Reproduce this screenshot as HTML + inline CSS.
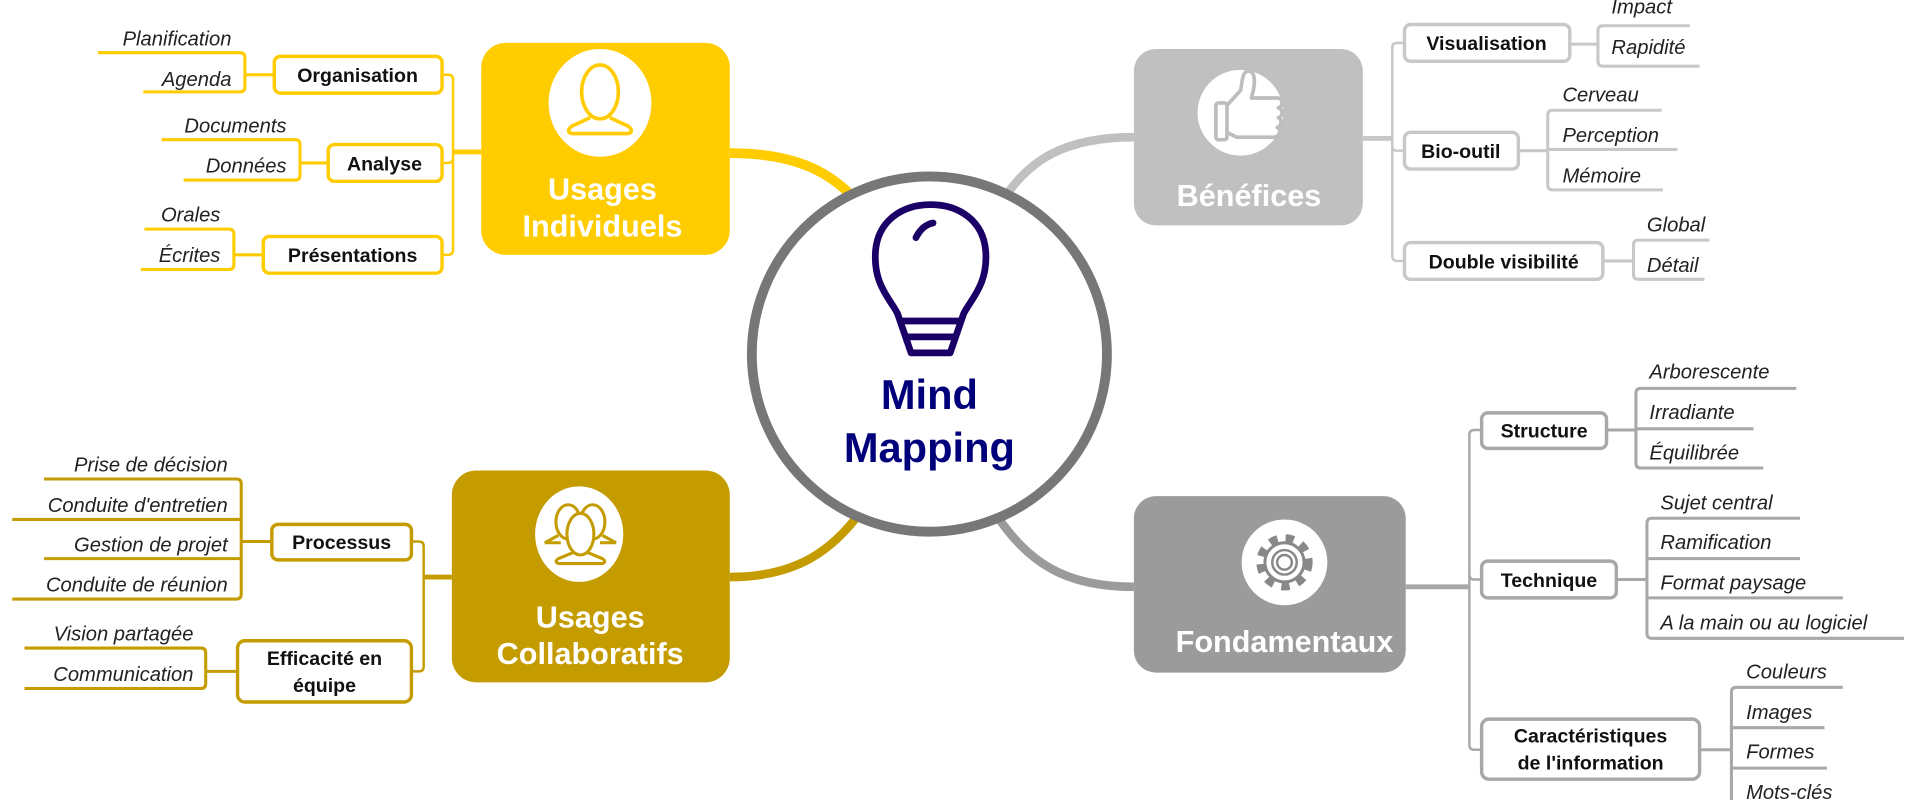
<!DOCTYPE html>
<html><head><meta charset="utf-8"><style>
html,body{margin:0;padding:0;background:#fff;}
svg{display:block;}
text{font-family:"Liberation Sans",sans-serif;}
.b{font-weight:bold;font-size:16px;fill:#111;text-anchor:middle;}
.l{font-style:italic;font-size:16.5px;fill:#222;}
.le{font-style:italic;font-size:16.5px;fill:#222;text-anchor:end;}
.m{font-weight:bold;font-size:25px;fill:#fff;text-anchor:middle;}
</style></head><body>
<svg width="1920" height="800" viewBox="0 0 1568 653" preserveAspectRatio="none" xmlns="http://www.w3.org/2000/svg">
<!-- main branches -->
<path d="M596 125 C650 125 680 140 705 170" stroke="#FFCC00" stroke-width="8" fill="none"/>
<path d="M926 112 C870 112 840 130 818 165" stroke="#C0C0C0" stroke-width="7" fill="none"/>
<path d="M596 471 C650 471 680 450 705 415" stroke="#C49C00" stroke-width="7" fill="none"/>
<path d="M926 479 C870 479 840 460 812 418" stroke="#9B9B9B" stroke-width="7" fill="none"/>

<!-- center -->
<circle cx="759" cy="289" r="145" fill="#fff" stroke="#777" stroke-width="8"/>
<g stroke="#1a0066" stroke-width="5.5" fill="none" stroke-linecap="round" stroke-linejoin="round">
<path d="M744 288 L733 256 C727 244 713 232 715 205 C717 180 737 167 760 167 C783 167 803 180 805 205 C807 232 793 244 787 256 L776 288 Z"/>
<path d="M737 262 H783 M740 275 H780"/>
<path d="M748 194 C752 186 757 183 762 182"/>
</g>
<text x="759" y="334" style="font-weight:bold;font-size:34px;fill:#00007a;text-anchor:middle">Mind</text>
<text x="759" y="377" style="font-weight:bold;font-size:34px;fill:#00007a;text-anchor:middle">Mapping</text>

<!-- Usages Individuels -->
<rect x="393" y="35" width="203" height="173" rx="20" fill="#FFCC00"/>
<ellipse cx="490" cy="84" rx="42" ry="44" fill="#fff"/>
<g stroke="#FFCC00" stroke-width="3" fill="none">
<ellipse cx="490" cy="75" rx="15" ry="22"/>
<path d="M482 96 L467 103 C463 106 464 109 468 109 H512 C516 109 517 106 513 103 L498 96"/>
</g>
<text class="m" x="492" y="163">Usages</text>
<text class="m" x="492" y="193">Individuels</text>

<g stroke="#FFCC00" fill="none">
<path d="M361 61 H366 Q370 61 370 65 V204 Q370 208 366 208 H361 M361 133 H366 Q370 133 370 129" stroke-width="2"/>
<path d="M370 124 H393" stroke-width="4"/>
<path d="M80 43 H196 Q200 43 200 47 V71 Q200 75 196 75 H117 M200 61 H224" stroke-width="2.5"/>
<path d="M132 114 H241 Q245 114 245 118 V143 Q245 147 241 147 H150 M245 133 H268" stroke-width="2.5"/>
<path d="M118 187 H187 Q191 187 191 191 V216 Q191 220 187 220 H115 M191 208 H215" stroke-width="2.5"/>
</g>
<g fill="#fff" stroke="#FFCC00" stroke-width="2.8">
<rect x="224" y="46" width="137" height="30" rx="5"/>
<rect x="268" y="118" width="93" height="30" rx="5"/>
<rect x="215" y="193" width="146" height="30" rx="5"/>
</g>
<text class="b" x="292" y="67">Organisation</text>
<text class="b" x="314" y="139">Analyse</text>
<text class="b" x="288" y="214">Présentations</text>
<text class="le" x="189" y="37">Planification</text>
<text class="le" x="189" y="70">Agenda</text>
<text class="le" x="234" y="108">Documents</text>
<text class="le" x="234" y="141">Données</text>
<text class="le" x="180" y="181">Orales</text>
<text class="le" x="180" y="214">Écrites</text>

<!-- Usages Collaboratifs -->
<rect x="369" y="384" width="227" height="173" rx="20" fill="#C49C00"/>
<ellipse cx="473" cy="436" rx="36" ry="39" fill="#fff"/>
<g stroke="#C49C00" stroke-width="2.5" fill="none">
<ellipse cx="464" cy="426" rx="10" ry="14"/>
<ellipse cx="484" cy="426" rx="10" ry="14"/>
<path d="M456 437 L445 443 H458 M492 437 L503 443 H490"/>
<ellipse cx="474" cy="436" rx="11" ry="17" fill="#fff"/>
<path d="M468 451 L456 456 C453 458 454 460 457 460 H491 C494 460 495 458 492 456 L480 451"/>
</g>
<text class="m" x="482" y="512">Usages</text>
<text class="m" x="482" y="542">Collaboratifs</text>

<g stroke="#C49C00" fill="none">
<path d="M336 442 H342 Q346 442 346 446 V544 Q346 548 342 548 H336" stroke-width="2"/>
<path d="M346 471 H369" stroke-width="4"/>
<path d="M36 391 H193 Q197 391 197 395 V485 Q197 489 193 489 H10 M10 424 H197 M36 456 H197 M197 442 H222" stroke-width="2.5"/>
<path d="M20 529 H164 Q168 529 168 533 V558 Q168 562 164 562 H20 M168 548 H194" stroke-width="2.5"/>
</g>
<g fill="#fff" stroke="#C49C00" stroke-width="2.8">
<rect x="222" y="428" width="114" height="29" rx="5"/>
<rect x="194" y="523" width="142" height="50" rx="6"/>
</g>
<text class="b" x="279" y="448">Processus</text>
<text class="b" x="265" y="543">Efficacité en</text>
<text class="b" x="265" y="565">équipe</text>
<text class="le" x="186" y="385">Prise de décision</text>
<text class="le" x="186" y="418">Conduite d'entretien</text>
<text class="le" x="186" y="450">Gestion de projet</text>
<text class="le" x="186" y="483">Conduite de réunion</text>
<text class="le" x="158" y="523">Vision partagée</text>
<text class="le" x="158" y="556">Communication</text>

<!-- Bénéfices -->
<rect x="926" y="40" width="187" height="144" rx="18" fill="#C0C0C0"/>
<circle cx="1013" cy="92" r="35" fill="#fff"/>
<g stroke="#BDBDBD" stroke-width="3" fill="none" stroke-linejoin="round">
<rect x="993" y="84" width="9" height="30" rx="2"/>
<path d="M1002 86 L1013 74 C1015 66 1014 58 1020 58 C1026 59 1025 70 1022 80 H1044 C1048 81 1048 87 1044 88 C1048 89 1048 95 1044 96 C1047 97 1047 103 1043 104 C1046 105 1046 111 1041 112 H1010 L1002 108"/>
</g>
<text class="m" x="1020" y="168">Bénéfices</text>

<g stroke="#C8C8C8" fill="none">
<path d="M1147 35 H1141 Q1137 35 1137 39 V209 Q1137 213 1141 213 H1147 M1147 123 H1141 Q1137 123 1137 119" stroke-width="2"/>
<path d="M1113 113 H1137" stroke-width="4"/>
<path d="M1380 21 H1309 Q1305 21 1305 25 V50 Q1305 54 1309 54 H1388 M1282 36 H1305" stroke-width="2.5"/>
<path d="M1357 90 H1268 Q1264 90 1264 94 V151 Q1264 155 1268 155 H1358 M1264 122 H1370 M1240 123 H1264" stroke-width="2.5"/>
<path d="M1396 196 H1338 Q1334 196 1334 200 V224 Q1334 228 1338 228 H1392 M1309 213 H1334" stroke-width="2.5"/>
</g>
<g fill="#fff" stroke="#C8C8C8" stroke-width="2.8">
<rect x="1147" y="20" width="135" height="30" rx="5"/>
<rect x="1147" y="108" width="93" height="30" rx="5"/>
<rect x="1147" y="198" width="162" height="30" rx="5"/>
</g>
<text class="b" x="1214" y="41">Visualisation</text>
<text class="b" x="1193" y="129">Bio-outil</text>
<text class="b" x="1228" y="219">Double visibilité</text>
<text class="l" x="1316" y="11">Impact</text>
<text class="l" x="1316" y="44">Rapidité</text>
<text class="l" x="1276" y="83">Cerveau</text>
<text class="l" x="1276" y="116">Perception</text>
<text class="l" x="1276" y="149">Mémoire</text>
<text class="l" x="1345" y="189">Global</text>
<text class="l" x="1345" y="222">Détail</text>

<!-- Fondamentaux -->
<rect x="926" y="405" width="222" height="144" rx="18" fill="#9B9B9B"/>
<circle cx="1049" cy="459" r="35" fill="#fff"/>
<g fill="none" stroke="#888">
<circle cx="1049" cy="459" r="19" stroke-width="8" stroke-dasharray="6.5 6.4"/>
<circle cx="1049" cy="459" r="16" stroke-width="2.5" fill="#fff"/>
<circle cx="1049" cy="459" r="10" stroke-width="2"/>
<circle cx="1049" cy="459" r="6" stroke-width="2"/>
</g>
<text class="m" x="1049" y="532">Fondamentaux</text>

<g stroke="#A8A8A8" fill="none">
<path d="M1210 351 H1204 Q1200 351 1200 355 V608 Q1200 612 1204 612 H1210 M1210 473 H1204 Q1200 473 1200 469" stroke-width="2"/>
<path d="M1148 479 H1200" stroke-width="4"/>
<path d="M1467 317 H1340 Q1336 317 1336 321 V378 Q1336 382 1340 382 H1440 M1336 350 H1432 M1312 351 H1336" stroke-width="2.5"/>
<path d="M1470 423 H1349 Q1345 423 1345 427 V517 Q1345 521 1349 521 H1555 M1345 456 H1470 M1345 488 H1505 M1320 473 H1345" stroke-width="2.5"/>
<path d="M1505 561 H1418 Q1414 561 1414 565 V653 M1414 594 H1490 M1414 627 H1492 M1388 612 H1414" stroke-width="2.5"/>
</g>
<g fill="#fff" stroke="#A8A8A8" stroke-width="2.8">
<rect x="1210" y="337" width="102" height="29" rx="5"/>
<rect x="1210" y="458" width="110" height="30" rx="5"/>
<rect x="1210" y="587" width="178" height="49" rx="6"/>
</g>
<text class="b" x="1261" y="357">Structure</text>
<text class="b" x="1265" y="479">Technique</text>
<text class="b" x="1299" y="606">Caractéristiques</text>
<text class="b" x="1299" y="628">de l'information</text>
<text class="l" x="1347" y="309">Arborescente</text>
<text class="l" x="1347" y="342">Irradiante</text>
<text class="l" x="1347" y="375">Équilibrée</text>
<text class="l" x="1356" y="416">Sujet central</text>
<text class="l" x="1356" y="448">Ramification</text>
<text class="l" x="1356" y="481">Format paysage</text>
<text class="l" x="1356" y="514">A la main ou au logiciel</text>
<text class="l" x="1426" y="554">Couleurs</text>
<text class="l" x="1426" y="587">Images</text>
<text class="l" x="1426" y="619">Formes</text>
<text class="l" x="1426" y="652">Mots-clés</text>
</svg>
</body></html>
